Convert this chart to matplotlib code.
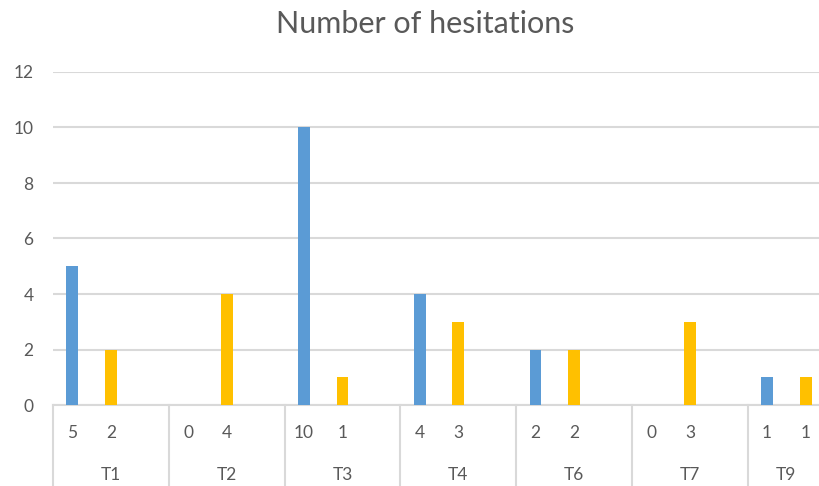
import matplotlib.pyplot as plt

# per task: first slot = blue series, second slot = yellow series, third slot left empty
tasks = ["T1", "T2", "T3", "T4", "T6", "T7", "T9"]
first = [5, 0, 10, 4, 2, 0, 1]
second = [2, 4, 1, 3, 2, 3, 1]
slots = 3
n_slots = slots * len(tasks) - 1  # last group has no empty slot

plt.rcParams['font.family'] = ['Lato', 'DejaVu Sans']
grey = "#595959"
line_grey = "#d9d9d9"

fig = plt.figure(figsize=(8.19, 4.86), dpi=100)
ax = fig.add_axes([53 / 819, 81 / 486, 772 / 819, 333 / 486])

x1 = [i * slots for i in range(len(tasks))]
x2 = [i * slots + 1 for i in range(len(tasks))]
w = 0.31
ax.bar(x1, first, width=w, color="#5b9bd5", zorder=3)
ax.bar(x2, second, width=w, color="#ffc000", zorder=3)

ax.set_xlim(-0.5, n_slots - 0.5)
ax.set_ylim(0, 12)
ax.set_yticks(range(0, 13, 2))
ax.yaxis.grid(True, color=line_grey, linewidth=1.5, zorder=0)
ax.tick_params(axis="y", length=0, pad=14, labelsize=12.5, labelcolor=grey)
ax.set_xticks([])
for s in ["left", "right", "top"]:
    ax.spines[s].set_visible(False)
ax.spines["bottom"].set_color(line_grey)
ax.spines["bottom"].set_linewidth(1.5)

# two-level category axis drawn below the plot
tr = ax.get_xaxis_transform()
for i, t in enumerate(tasks):
    for x, v in ((x1[i], first[i]), (x2[i], second[i])):
        ax.text(x, -0.084, str(v), transform=tr, ha="center", va="center",
                fontsize=12.5, color=grey)
    start = i * slots - 0.5
    end = min(start + slots, n_slots - 0.5)
    ax.text((start + end) / 2, -0.21, t, transform=tr, ha="center", va="center",
            fontsize=12.5, color=grey)
    ax.plot([start, start], [0, -0.3], transform=tr, color=line_grey,
            linewidth=1.5, clip_on=False)

fig.text(425 / 819, 1 - 24 / 486, "Number of hesitations", ha="center", va="center",
         fontsize=22, color=grey)

fig.savefig("out.png", dpi=100)
